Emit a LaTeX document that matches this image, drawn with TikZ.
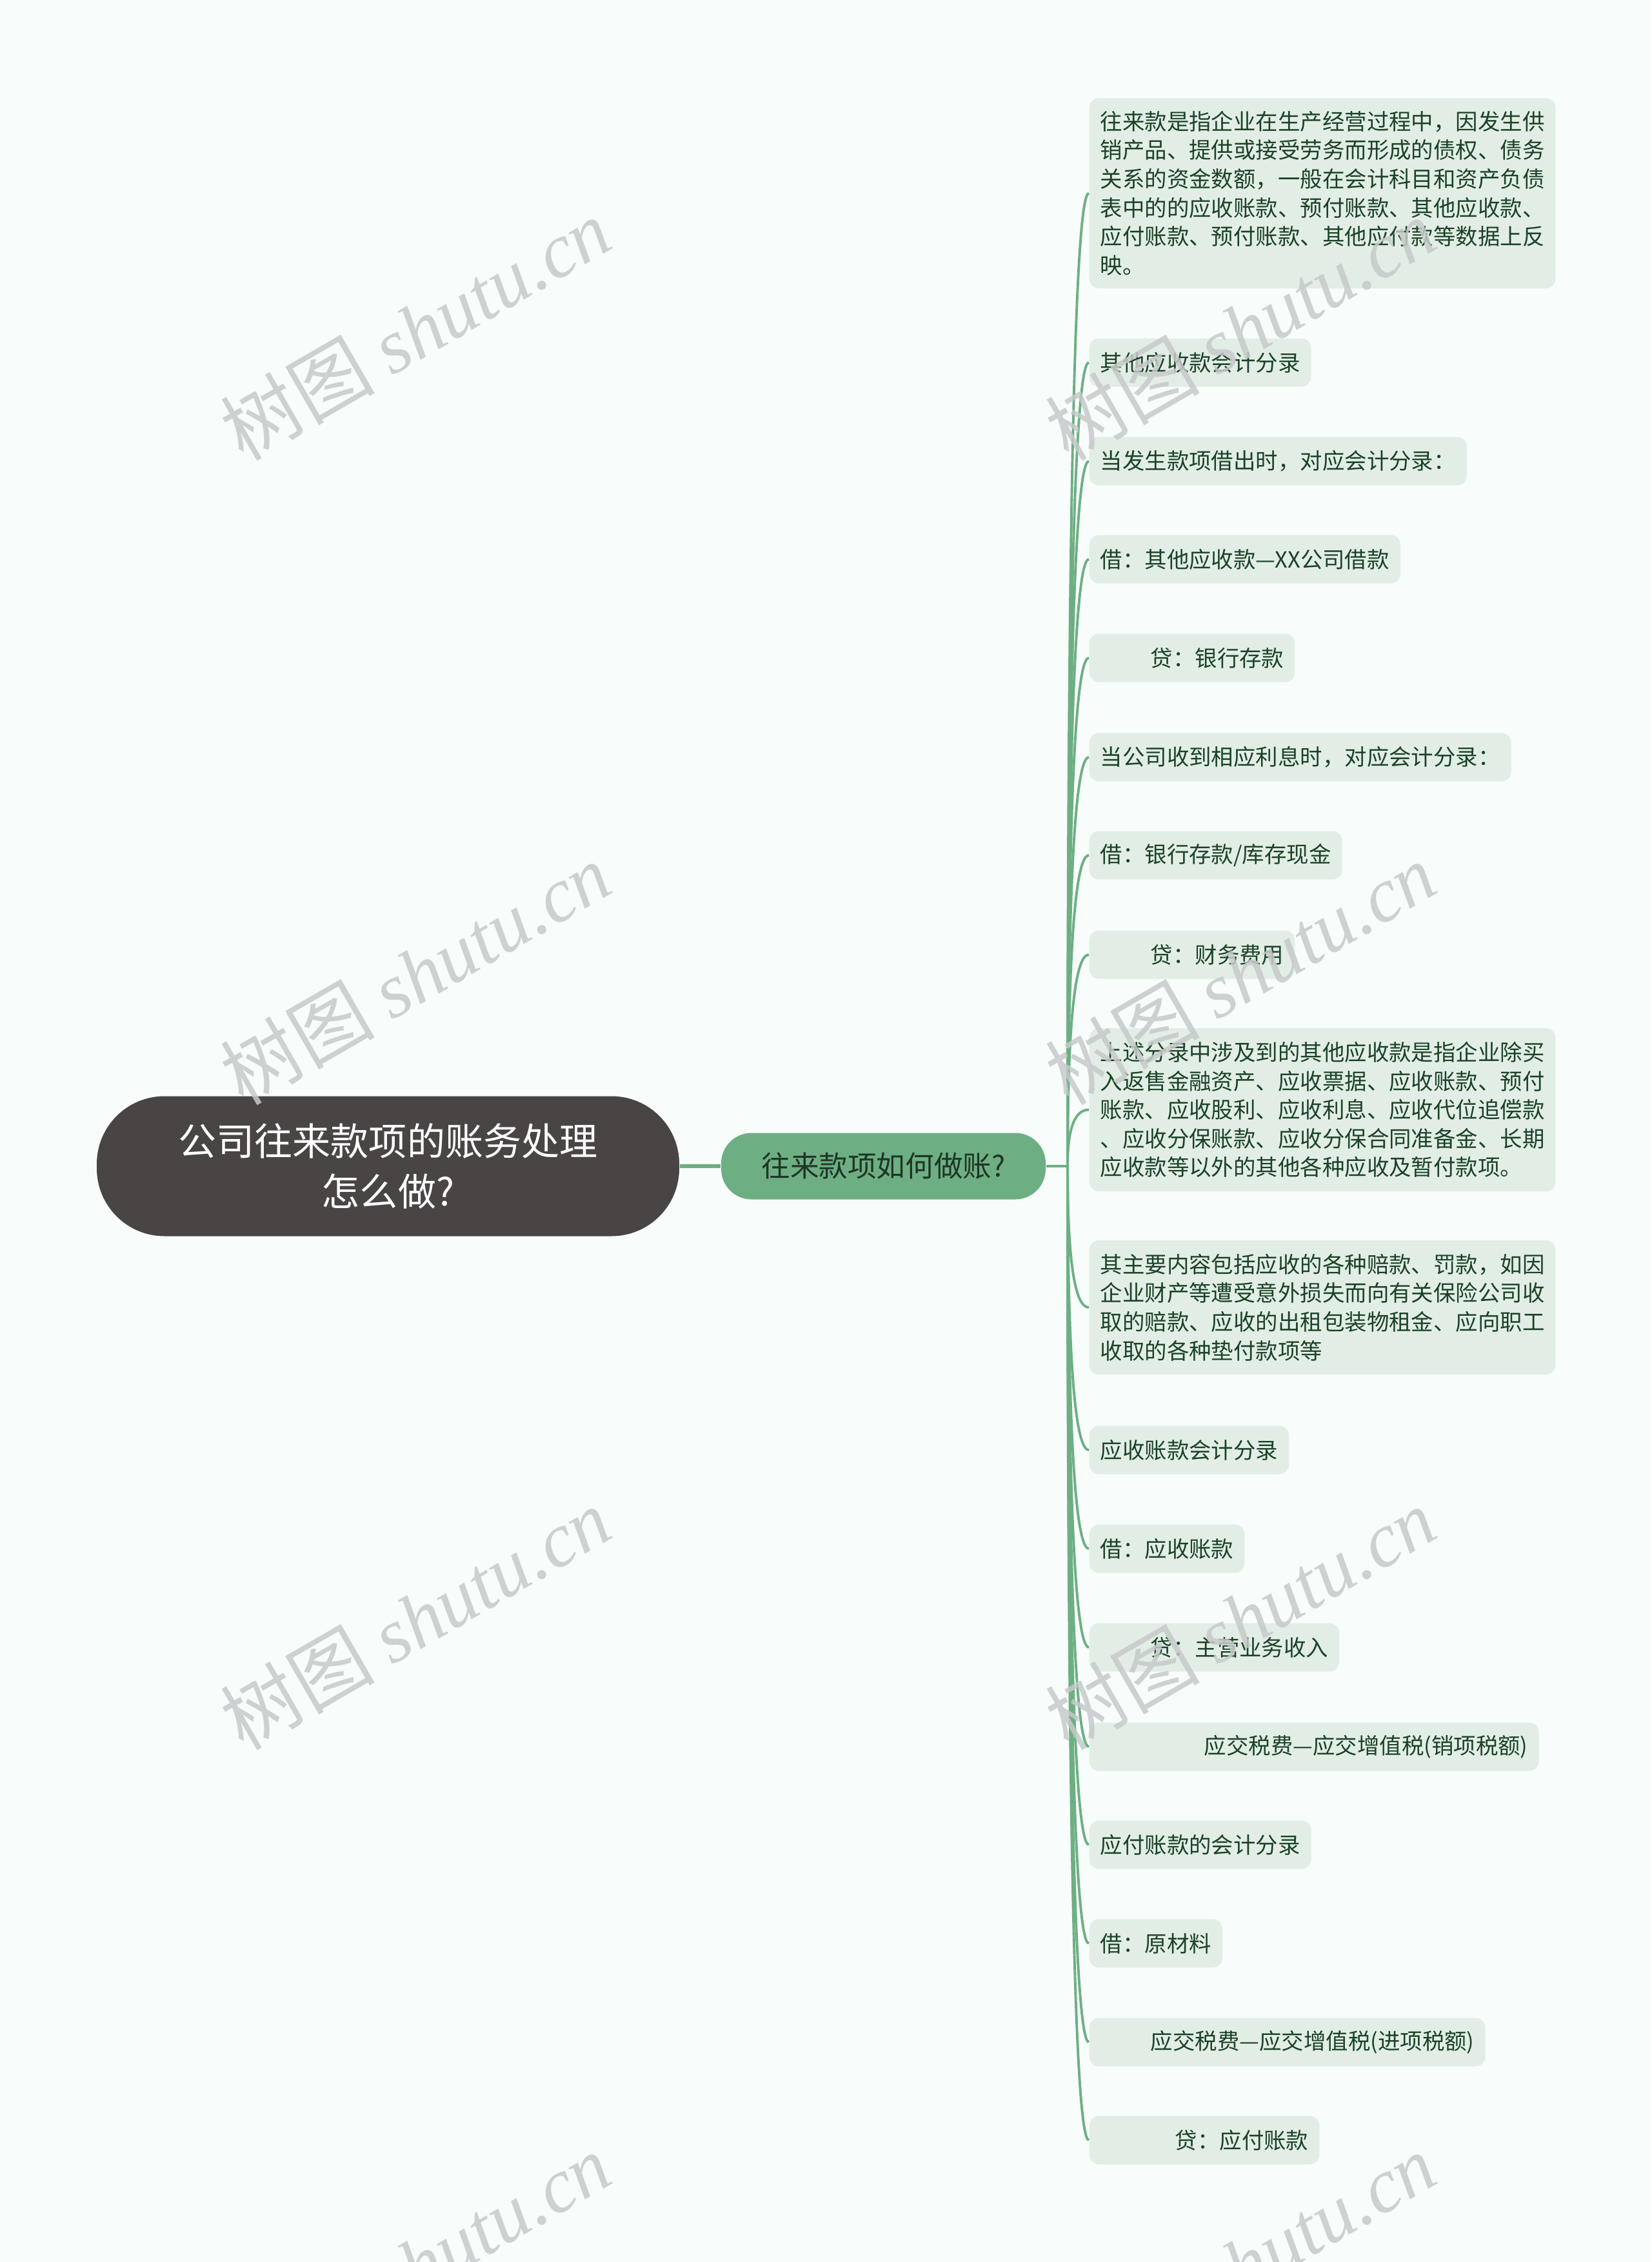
\documentclass[tikz,border=0pt]{standalone}
\usepackage{fontspec}
\setmainfont{Noto Sans CJK SC}
\newfontfamily\wmserif{Liberation Serif}
\usetikzlibrary{calc}
\definecolor{bgtint}{HTML}{F8FCFB}
\definecolor{rootfill}{HTML}{4A4545}
\definecolor{branchfill}{HTML}{6DAF83}
\definecolor{leaffill}{HTML}{E2EEE5}
\definecolor{leaftext}{HTML}{1B4227}
\definecolor{branchtext}{HTML}{1F3526}
\definecolor{wmgray}{HTML}{C6CACA}
\newcommand{\leaffont}{\fontsize{9.8pt}{12.7pt}\selectfont}
\newcommand{\indentby}[1]{\hspace*{#1}}

\begin{document}
\begin{tikzpicture}[
    rootbox/.style={fill=rootfill, text=white, rounded corners=1.05cm, minimum width=9.03cm, minimum height=2.17cm, align=center, font=\fontsize{16.8pt}{22.2pt}\selectfont},
    branchbox/.style={fill=branchfill, text=branchtext, rounded corners=0.47cm, minimum width=5.03cm, minimum height=1.03cm, font=\fontsize{12.7pt}{15pt}\selectfont},
    leaf/.style={fill=leaffill, text=leaftext, rounded corners=0.15cm, anchor=west, align=left, inner xsep=0.17cm, inner ysep=0cm, minimum height=0.75cm, font=\leaffont},
    link/.style={draw=branchfill, line width=1.1pt},
    trunk/.style={draw=branchfill, line width=1.5pt},
    wmark/.style={text=wmgray, opacity=0.85, rotate=30, font=\fontsize{34pt}{34pt}\selectfont}
  ]
  \fill[bgtint] (0,0) rectangle (25.6,-35.07);
  \useasboundingbox (0,0) rectangle (25.6,-35.07);
  \clip (0,0) rectangle (25.6,-35.07);

  \node[rootbox] (root) at (6.015,-18.08) {公司往来款项的账务处理\\怎么做?};
  \node[branchbox] (branch) at (13.695,-18.08) {往来款项如何做账?};
  \coordinate (hub) at (16.55,-18.08);

  \node[leaf, minimum height=2.95cm] (l1) at (16.88,-2.995) {往来款是指企业在生产经营过程中，因发生供\\销产品、提供或接受劳务而形成的债权、债务\\关系的资金数额，一般在会计科目和资产负债\\表中的的应收账款、预付账款、其他应收款、\\应付账款、预付账款、其他应付款等数据上反\\映。};
  \node[leaf] (l2) at (16.88,-5.62) {其他应收款会计分录};
  \node[leaf] (l3) at (16.88,-7.15) {当发生款项借出时，对应会计分录：};
  \node[leaf] (l4) at (16.88,-8.67) {借：其他应收款—XX公司借款};
  \node[leaf] (l5) at (16.88,-10.20) {\indentby{0.78cm}贷：银行存款};
  \node[leaf] (l6) at (16.88,-11.74) {当公司收到相应利息时，对应会计分录：};
  \node[leaf] (l7) at (16.88,-13.26) {借：银行存款/库存现金};
  \node[leaf] (l8) at (16.88,-14.80) {\indentby{0.78cm}贷：财务费用};
  \node[leaf, minimum height=2.53cm] (l9) at (16.88,-17.205) {上述分录中涉及到的其他应收款是指企业除买\\入返售金融资产、应收票据、应收账款、预付\\账款、应收股利、应收利息、应收代位追偿款\\、应收分保账款、应收分保合同准备金、长期\\应收款等以外的其他各种应收及暂付款项。};
  \node[leaf, minimum height=2.08cm] (l10) at (16.88,-20.27) {其主要内容包括应收的各种赔款、罚款，如因\\企业财产等遭受意外损失而向有关保险公司收\\取的赔款、应收的出租包装物租金、应向职工\\收取的各种垫付款项等};
  \node[leaf] (l11) at (16.88,-22.48) {应收账款会计分录};
  \node[leaf] (l12) at (16.88,-24.01) {借：应收账款};
  \node[leaf] (l13) at (16.88,-25.54) {\indentby{0.78cm}贷：主营业务收入};
  \node[leaf] (l14) at (16.88,-27.08) {\indentby{1.61cm}应交税费—应交增值税(销项税额)};
  \node[leaf] (l15) at (16.88,-28.60) {应付账款的会计分录};
  \node[leaf] (l16) at (16.88,-30.13) {借：原材料};
  \node[leaf] (l17) at (16.88,-31.66) {\indentby{0.78cm}应交税费—应交增值税(进项税额)};
  \node[leaf] (l18) at (16.88,-33.18) {\indentby{1.16cm}贷：应付账款};

  \draw[trunk] (root) -- (branch);
  \draw[link] (branch) -- (hub);
  \foreach \i in {1,...,18} {
    \coordinate (k\i) at (hub |- l\i.west);
    \draw[link] (hub) .. controls ($(hub)!0.6667!(k\i)$) and ($(l\i.west)!0.6667!(k\i)$) .. (l\i.west);
  }

  \foreach \wx/\col in {6.44/a,19.23/b}
    \foreach \wy/\row in {-5.10/1,-15.09/2,-25.09/3,-35.10/4}
      \node[wmark] (wm\col\row) at (\wx,\wy) {树图 {\wmserif\itshape shutu.cn}};
\end{tikzpicture}
\end{document}
